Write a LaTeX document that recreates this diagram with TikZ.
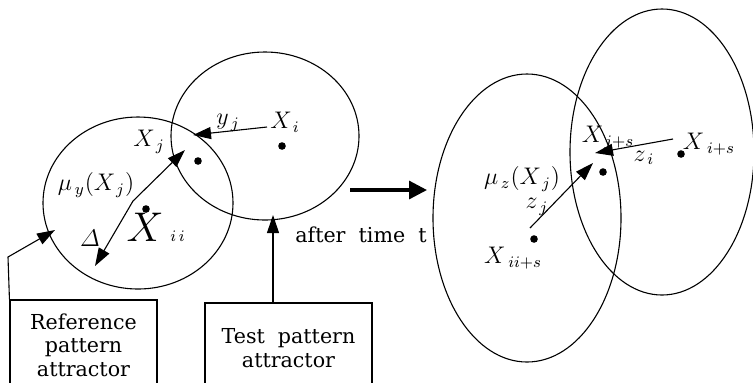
\documentclass[tikz,border=0pt]{standalone}
\usepackage{amsmath}
\usepackage{fontspec}
\setmainfont{DejaVu Serif}
\usetikzlibrary{arrows.meta}
\begin{document}
\begin{tikzpicture}[x=0.5pt,y=-0.5pt,line width=0.55pt,
  tipend/.style={-{Triangle[length=9pt,width=6pt]}},
  dbltip/.style={{Triangle[length=9pt,width=6pt]}-{Triangle[length=9pt,width=6pt]}},
  bigarrow/.style={line width=1.6pt,-{Triangle[length=9pt,width=9pt]}},
  pt/.style={circle,fill,inner sep=0pt,minimum size=3.8pt},
  lbl/.style={inner sep=0pt,font=\fontsize{12}{14}\selectfont},
  boxnode/.style={draw,inner sep=0pt,align=center,font=\fontsize{10.3}{11.8}\selectfont}]
\useasboundingbox (0,0) rectangle (753,382);
% attractors (left)
\draw (138,203) ellipse [x radius=95, y radius=86];
\draw (265,136) ellipse [x radius=94, y radius=84];
% attractors (right)
\draw (527,218) ellipse [x radius=94, y radius=144];
\draw (662,152) ellipse [x radius=92, y radius=143];
% points
\node[pt] (xj) at (198,161) {};
\node[pt] (xi) at (282,146) {};
\node[pt] (xii) at (146,209) {};
\node[pt] (xjs) at (603,172) {};
\node[pt] (xis) at (681,154) {};
\node[pt] (xiis) at (534,239) {};
% labels left
\node[lbl] (lxj) at (149,142) {$X_{\,j}$};
\node[lbl] (lyj) at (228,123) {$y_{\,j}$};
\node[lbl] (lxi) at (285,122) {$X_{\,i}$};
\node[lbl] (lmu) at (96,185) {$\mu_{\,y}(X_{\,j})$};
\node[lbl] (ldelta) at (90,238) {$\varDelta$};
\node[lbl,font=\fontsize{20}{22}\selectfont] (lxii) at (145,227) {$X$};
\node[lbl] (lii) at (178,236) {$_{i\,i}$};
\node[inner sep=0pt,font=\fontsize{10.3}{12}\selectfont] (after) at (361,235) {after\ \ time\ \ t};
% labels right
\node[lbl] (lmuz) at (522,179) {$\mu_{\,z}(X_{\,j})$};
\node[lbl] (lzj) at (537,207) {$z_{\,j}$};
\node[lbl] (lxiis) at (513,258) {$X_{\;ii+s}$};
\node[lbl] (lxjs) at (608,138) {$X_{\,j+s}$};
\node[lbl] (lzi) at (644,158) {$z_{\,i}$};
\node[lbl] (lxis) at (709,144) {$X_{\;i+s}$};
% boxes
\node[boxnode,minimum width=73.5pt,minimum height=45pt] (refbox) at (83.5,345) {Reference\\pattern\\attractor};
\node[boxnode,minimum width=83.5pt,minimum height=45pt] (testbox) at (288.5,348) {Test\ \ pattern\\attractor};
% connector coordinates
\coordinate (yjstart) at (267,127);
\coordinate (yjend) at (193,135);
\coordinate (dA) at (95,266);
\coordinate (dB) at (133,201);
\coordinate (dC) at (185,150);
\coordinate (refbend) at (8,257);
\coordinate (refend) at (55,230);
\coordinate (teststart) at (273,303);
\coordinate (testend) at (273,215);
\coordinate (bigstart) at (350,190);
\coordinate (bigend) at (427,190);
\coordinate (zjstart) at (530,228);
\coordinate (zjend) at (593,163);
\coordinate (zistart) at (673,139);
\coordinate (ziend) at (595,153);
% connectors
\draw[tipend] (yjstart) -- (yjend);
\draw[dbltip] (dA) -- (dB) -- (dC);
\draw[tipend] (refbox.north west) -- (refbend) -- (refend);
\draw[tipend] (teststart) -- (testend);
\draw[bigarrow] (bigstart) -- (bigend);
\draw[tipend] (zjstart) -- (zjend);
\draw[tipend] (zistart) -- (ziend);
\end{tikzpicture}
\end{document}
